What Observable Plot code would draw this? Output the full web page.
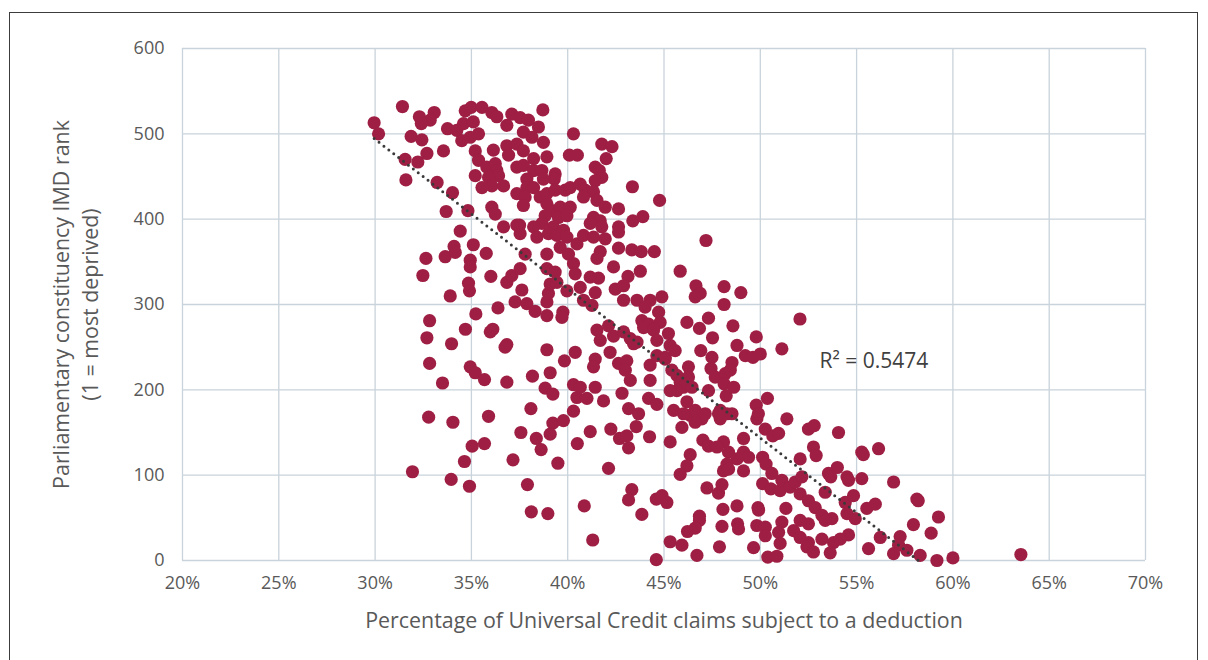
<!DOCTYPE html>
<html><head><meta charset="utf-8">
<script src="https://cdn.jsdelivr.net/npm/d3@7"></script>
<script src="https://cdn.jsdelivr.net/npm/@observablehq/plot@0.6"></script>
<style>
html,body{margin:0;padding:0;background:#fff;}
#frame{position:absolute;left:9px;top:12px;width:1189px;height:700px;border:1px solid #3c3c3c;box-sizing:border-box;}
#chart{position:absolute;left:0;top:0;}
</style></head><body>
<div id="frame"></div><div id="chart"></div>
<script>
// Percentage of UC claims subject to a deduction (x, %) and constituency IMD rank (y)
const constituencies = [
[29.95,513],[30.18,500],[31.42,532],[32.3,520],[33.07,525],[32.86,516],[32.4,512],[31.87,497],[32.43,493],[32.69,477],[33.55,480],[31.56,470],[32.22,467],[31.6,446],[33.22,443],[34.02,431],[33.69,409],[34.82,410],[34.42,386],[34.1,368],[35.1,370],[35.77,360],[32.64,354],[33.64,356],
[34.68,527],[34.99,531],[35.55,531],[36.06,525],[36.32,520],[36.84,510],[37.1,523],[37.53,519],[37.96,516],[38.71,528],[38.48,508],[37.7,502],[38.14,496],[38.74,490],[40.3,500],[40.09,475],[40.5,475],[40.48,371],
[33.76,506],[34.24,504],[34.59,512],[35.1,514],[35.37,500],[34.94,496],[34.5,492],[35.2,480],[35.37,469],[36.14,481],[35.8,461],[36.24,465],[36.84,486],[37.36,488],[37.7,480],[36.93,475],[37.36,461],[37.7,463],[38.23,471],[38.92,473],[38.23,457],[38.66,457],[39.35,453],[39.3,447],[38.74,447],[37.88,447],[36.32,457],[36.41,451],[35.89,449],[35.2,451],[36.06,439],[36.67,439],[35.55,437],[37.88,437],[38.23,437],[37.36,430],[37.79,426],[38.57,426],[38.92,430],[39.35,434],[39.87,434],[40.13,437],
[37.7,416],[38.92,418],[39.18,410],[39.61,414],[40.13,414],[38.83,404],[39.52,402],[39.96,404],[38.66,395],[39.26,391],[39.78,387],[39.0,383],[39.44,381],[39.96,379],[38.23,391],[37.5,393],[37.53,383],[38.4,379],[39.61,367],[40.04,359],[37.79,359],[38.92,359],[36.06,414],[36.24,406],[36.67,391],[37.36,393],
[41.77,488],[42.3,485],[42.0,471],[41.43,461],[41.64,457],[41.77,449],[41.43,445],[40.91,434],[41.34,432],[43.36,438],[44.77,422],[40.65,441],[40.82,426],[41.52,422],[41.95,414],[42.64,412],[41.34,402],[41.69,398],[41.17,395],[41.77,391],[42.64,391],[43.38,398],[43.9,403],[42.64,385],[40.82,381],[41.34,379],[41.95,377],[47.18,375],
[41.69,362],[41.52,354],[42.64,366],[43.33,364],[43.82,362],[44.5,362],
[34.16,361],[34.94,352],[34.94,344],[32.48,334],[36.01,333],[34.85,325],[34.9,316],[33.9,310],[36.84,326],[37.1,334],[37.53,342],[37.62,317],[37.27,303],[37.88,301],[38.31,292],[38.92,287],[36.38,296],[35.23,289],[38.92,303],[39.0,313],[39.09,324],[38.92,342],[39.35,338],[39.44,326],[39.96,316],[40.3,348],[40.39,336],[39.75,291],[39.7,285],[32.83,281],[32.69,261],[33.97,254],[34.69,271],[36.11,271],[35.98,268],[36.84,253],[36.75,250],[32.83,231],[34.94,227],[35.2,220],[35.68,212],[33.5,208],[36.84,209],[38.17,216],[38.92,247],[39.09,220],[38.83,202],[39.23,195],[39.83,234],[40.39,244],[40.3,206],[40.48,191],
[32.78,168],[34.04,162],[35.89,169],[38.09,178],[40.3,175],[39.23,161],[39.78,164],[37.57,150],[38.37,143],[39.09,148],[38.62,130],[40.5,137],[35.04,134],[35.68,137],[34.64,116],[37.16,118],[39.49,114],[31.94,104],[33.95,95],[34.9,87],[37.91,89],[38.11,57],[38.97,55],[40.86,64],
[41.17,151],[42.24,154],[42.69,143],[43.07,146],[43.56,157],[43.16,132],[44.25,145],[42.12,108],[45.32,139],[45.93,156],[47.02,141],[47.31,134],[48.09,139],[47.75,133],[48.35,127],[49.13,143],[49.13,127],[49.39,121],[48.79,119],[49.13,105],[46.36,124],[46.19,111],[45.84,101],[48.09,105],[48.27,113],[48.35,107],[49.82,166],[50.26,154],[50.65,146],[50.95,149],[50.12,121],[50.3,113],[50.6,102],[50.12,90],[50.55,84],[51.03,82],[51.12,94],[51.55,86],[51.81,92],[43.33,83],[43.16,71],[44.6,72],[44.9,76],[45.15,68],[43.85,54],[47.23,85],[47.83,79],[48.01,89],[48.06,60],[48.79,64],[48.82,43],[48.87,37],[49.88,62],[49.91,59],[46.84,52],[46.84,47],[46.62,38],[46.22,34],[48.01,40],[49.82,41],[50.26,39],[50.26,29],[51.12,45],[50.95,33],[51.03,20],[51.33,61],[51.73,35],[41.3,24],[45.32,22],[45.93,18],[46.71,6],[44.6,1],[47.88,16],[49.65,15],[50.39,4],[50.86,5],
[46.36,170],[46.97,166],[47.92,166],[46.62,162],
[45.84,339],[46.66,322],[46.88,313],[46.62,309],[48.12,321],[48.99,314],[48.12,300],[47.31,284],[48.58,275],[46.19,279],[46.84,272],[47.52,261],[49.79,262],[51.12,248],[52.06,283],[48.79,252],[49.22,240],[49.62,238],[50.0,242],[46.91,246],[47.49,238],[48.53,232],[47.44,225],[47.66,215],[48.18,219],[48.44,223],[48.12,207],[48.23,193],[47.31,199],[50.37,190],[49.79,182],[49.9,172],[51.38,166],[47.92,176],[48.27,172],
[42.38,344],[43.13,333],[43.77,339],
[41.17,332],[41.6,331],[40.65,320],[41.43,314],[42.47,318],[42.9,322],[42.9,305],[43.6,305],[44.28,305],[44.02,297],[44.89,309],[44.72,291],[40.82,305],[41.26,299],
[43.85,281],[44.2,277],[44.8,279],[43.94,273],[44.46,270],[45.23,266],[44.63,258],[45.32,252],[45.58,246],[45.06,238],
[41.52,270],[42.12,275],[42.38,263],[41.69,258],[42.9,268],[43.25,260],[43.6,256],[43.42,254],
[42.2,244],[42.64,231],[41.43,236],[41.34,227],[43.07,234],[42.99,223],[43.25,211],[44.28,229],[44.28,211],[44.63,240],[45.06,236],
[45.41,223],[45.67,217],[45.84,209],[46.27,227],[46.27,215],[46.01,203],[45.67,199],[45.32,199],[46.45,203],
[40.65,203],[41.43,203],[41.86,187],[41.0,190],[42.82,196],[43.16,178],[43.68,172],[44.2,190],[44.63,183],[45.5,176],[46.01,172],[46.19,186],[46.62,176],[47.14,172],[47.83,172],[48.53,172],[48.62,203],
[52.5,154],[52.8,158],[54.06,150],[55.27,127],[55.35,124],[56.14,131],[52.76,133],[52.9,123],[52.07,119],[54.0,109],[53.54,102],[53.66,98],[54.5,98],[54.58,94],[55.27,96],[56.92,92],[52.16,98],
[52.07,78],[52.5,70],[52.85,62],[53.2,53],[53.72,49],[53.37,47],[52.5,43],[52.07,47],
[53.37,80],[54.41,68],[54.84,76],[54.5,55],[54.93,49],[55.53,61],[55.97,66],
[58.13,72],[58.2,70],[59.25,51],[57.95,42],[58.87,32],
[54.58,30],[53.8,21],[54.15,25],[53.2,25],[52.5,21],[52.07,27],[52.42,16],[52.76,10],[53.63,9],
[56.23,27],[55.62,14],[57.26,28],[57.18,18],[56.92,8],[57.61,12],[58.3,6],[59.17,0],[60.0,3],[63.53,7]
];
const xTicks = [20, 25, 30, 35, 40, 45, 50, 55, 60, 65, 70];
const yTicks = [0, 100, 200, 300, 400, 500, 600];
// Linear trendline: rank = intercept + slope * pct
const trendIntercept = 1018.6;
const trendSlope = -17.5;
const r2Label = ["R² = 0.5474"];
const r2Position = [55.9, 234];
const xTitle = ["Percentage of Universal Credit claims subject to a deduction"];
const yTitle = ["Parliamentary constituency IMD rank\n(1 = most deprived)"];

const points = constituencies.map(([pct, rank]) => ({pct, rank}));
const xMin = d3.min(points, d => d.pct);
const xMax = d3.max(points, d => d.pct);
const xEnd = Math.min(xMax, -trendIntercept / trendSlope);
const trend = [xMin, xEnd].map(pct => ({pct, rank: trendIntercept + trendSlope * pct}));

const gridStyle = {stroke: "#c9d3db", strokeOpacity: 1, strokeWidth: 1.3};

const chart = Plot.plot({
  width: 1208, height: 660,
  marginLeft: 182, marginRight: 63, marginTop: 48, marginBottom: 100,
  style: {fontFamily: "'Open Sans', sans-serif", fontSize: "18px", color: "#595959", background: "transparent"},
  x: {domain: [20, 70], ticks: xTicks, tickFormat: d => d + "%", tickSize: 0, tickPadding: 16, label: null},
  y: {domain: [0, 600], ticks: yTicks, tickSize: 0, tickPadding: 18, label: null},
  marks: [
    Plot.gridX(xTicks, gridStyle),
    Plot.gridY(yTicks, gridStyle),
    Plot.dot(points, {x: "pct", y: "rank", r: 6.6, fill: "#9e1f43"}),
    Plot.line(trend, {x: "pct", y: "rank", stroke: "#3a3a3a", strokeWidth: 3, strokeDasharray: "0 6.2", strokeLinecap: "round"}),
    Plot.text(r2Label, {x: () => r2Position[0], y: () => r2Position[1], text: d => d, fontSize: 21, fill: "#404040", textAnchor: "middle"}),
    Plot.text(xTitle, {frameAnchor: "bottom", dy: 67, lineAnchor: "bottom", textAnchor: "middle", text: d => d, fontSize: 21.4, fill: "#595959"}),
    Plot.text(yTitle, {frameAnchor: "left", dx: -108, rotate: -90, textAnchor: "middle", lineAnchor: "middle", lineHeight: 1.33, text: d => d, fontSize: 21.4, fill: "#595959"})
  ]
});
document.getElementById("chart").appendChild(chart);
</script></body></html>
